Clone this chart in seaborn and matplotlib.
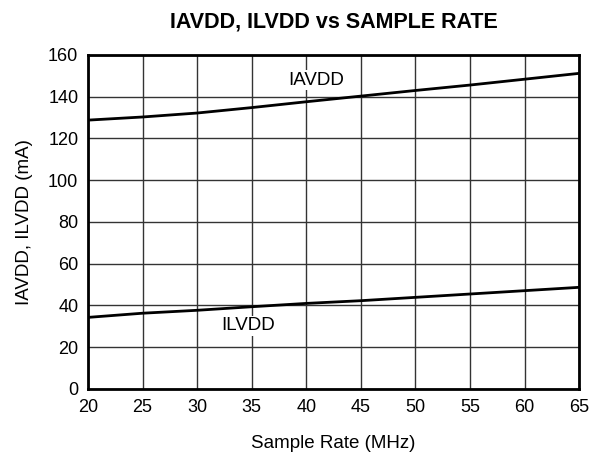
import numpy as np
import pandas as pd
import seaborn as sns
import matplotlib
matplotlib.use('Agg')
import matplotlib.pyplot as plt

# Data
rate = [20, 25, 30, 35, 40, 45, 50, 55, 60, 65]
iavdd = [128.8, 130.3, 132.2, 134.8, 137.6, 140.3, 143.0, 145.6, 148.4, 151.2]
ilvdd = [34.3, 36.3, 37.7, 39.4, 41.0, 42.3, 43.9, 45.5, 47.1, 48.7]

dtf = pd.DataFrame({'rate': rate * 2,
                    'current': iavdd + ilvdd,
                    'series': ['IAVDD'] * len(rate) + ['ILVDD'] * len(rate)})

sns.set_style('white')
plt.rcParams['font.family'] = ['Liberation Sans', 'DejaVu Sans']
plt.rcParams['text.color'] = 'black'
plt.rcParams['axes.labelcolor'] = 'black'

fig = plt.figure(figsize=(5.97, 4.53), dpi=100)
ax = fig.add_axes([0.1474, 0.1413, 0.8226, 0.7373])
sns.lineplot(data=dtf, x='rate', y='current', units='series', estimator=None,
             color='black', linewidth=2, ax=ax, zorder=3)

ax.set_xlim(20, 65)
ax.set_ylim(0, 160)
ax.set_xticks(np.arange(20, 66, 5))
ax.set_yticks(np.arange(0, 161, 20))
ax.grid(True, color='#333333', linewidth=1)
for s in ax.spines.values():
    s.set_color('black')
    s.set_linewidth(2)
ax.tick_params(axis='both', labelsize=13, length=0, pad=7,
               colors='black', labelcolor='black')
ax.set_xlabel('Sample Rate (MHz)', fontsize=13.5, labelpad=14, color='black')
ax.set_ylabel('IAVDD, ILVDD (mA)', fontsize=13.5, labelpad=11, color='black')
ax.set_title('IAVDD, ILVDD vs SAMPLE RATE', fontsize=15.5, fontweight='bold',
             pad=20, color='black')

box = dict(facecolor='white', edgecolor='none', pad=1)
ax.text(40.9, 148, 'IAVDD', ha='center', va='center', fontsize=13.5,
        color='black', bbox=box, zorder=4)
ax.text(34.7, 30.2, 'ILVDD', ha='center', va='center', fontsize=13.5,
        color='black', bbox=box, zorder=4)

fig.savefig('out.png', dpi=100)
